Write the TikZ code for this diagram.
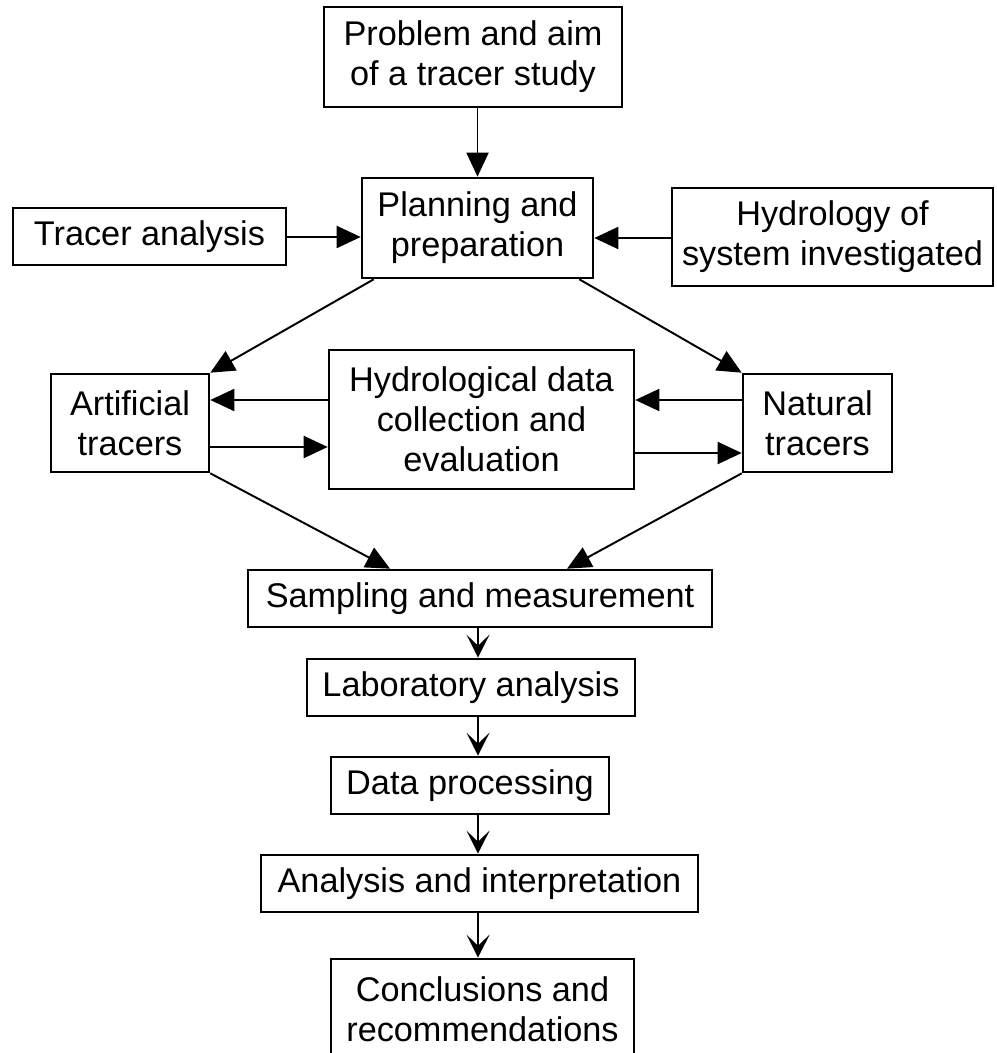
\documentclass[tikz,border=0pt]{standalone}
\usepackage{fontspec}
\setmainfont{Liberation Sans}
\usetikzlibrary{arrows.meta}

\begin{document}
\begin{tikzpicture}[x=0.02cm, y=-0.02cm,
	box/.style={draw, line width=1.5pt, inner sep=0pt, align=center, font=\fontsize{19.5}{22.8}\selectfont},
	flow/.style={line width=1.1pt, -{Triangle[length=4.8mm, width=4.4mm]}},
	chain/.style={line width=1.2pt, -{Stealth[length=4.6mm, width=4.6mm, inset=2.2mm]}}]
	\useasboundingbox (0,0) rectangle (996,1053);
	
	% planning stage
	\node [box, minimum width=5.96cm, minimum height=2cm] (prob) at (473,57) {Problem and aim\\of a tracer study};
	\node [box, minimum width=4.62cm, minimum height=2cm] (plan) at (477.5,228) {Planning and\\preparation};
	\node [box, minimum width=5.46cm, minimum height=1.14cm] (tra) at (149.5,236.5) {Tracer analysis};
	\node [box, minimum width=6.42cm, minimum height=1.96cm] (hyd) at (832.5,237) {Hydrology of\\system investigated};
	
	\draw [flow] (plan.north |- prob.south) -- (plan.north);
	\draw [flow] (tra.east |- 0,237) -- (plan.west |- 0,237);
	\draw [flow] (hyd.west |- 0,238) -- (plan.east |- 0,238);
	
	% tracers
	\node [box, minimum width=3.16cm, minimum height=1.96cm] (art) at (130,423) {Artificial\\tracers};
	\node [box, minimum width=6.1cm, minimum height=2.78cm] (dat) at (481.5,419.5) {Hydrological data\\collection and\\evaluation};
	\node [box, minimum width=2.98cm, minimum height=1.96cm] (nat) at (817.5,423) {Natural\\tracers};
	
	\draw [flow] ([xshift=0.26cm]plan.south west) -- (art.north east);
	\draw [flow] ([xshift=-0.3cm]plan.south east) -- (nat.north west);
	\draw [flow] (dat.west |- 0,400) -- (art.east |- 0,400);
	\draw [flow] (art.east |- 0,447) -- (dat.west |- 0,447);
	\draw [flow] (nat.west |- 0,400) -- (dat.east |- 0,400);
	\draw [flow] (dat.east |- 0,453) -- (nat.west |- 0,453);
	
	% field and lab work
	\node [box, minimum width=9.28cm, minimum height=1.14cm] (samp) at (480,598.5) {Sampling and measurement};
	\node [box, minimum width=6.56cm, minimum height=1.14cm] (lab) at (471,687.5) {Laboratory analysis};
	\node [box, minimum width=5.56cm, minimum height=1.14cm] (proc) at (470,785.5) {Data processing};
	\node [box, minimum width=8.74cm, minimum height=1.14cm] (anl) at (479.5,883.5) {Analysis and interpretation};
	\node [box, minimum width=6.06cm, minimum height=2cm] (concl) at (482.5,1009) {Conclusions and\\recommendations};
	
	\draw [flow] (art.south east) -- (samp.north -| 390,0);
	\draw [flow] (nat.south west) -- (samp.north -| 567,0);
	
	\foreach \a/\b in {samp/lab, lab/proc, proc/anl, anl/concl}
		\draw [chain] (\a.south -| 478,0) -- (\b.north -| 478,0);
\end{tikzpicture}
\end{document}
